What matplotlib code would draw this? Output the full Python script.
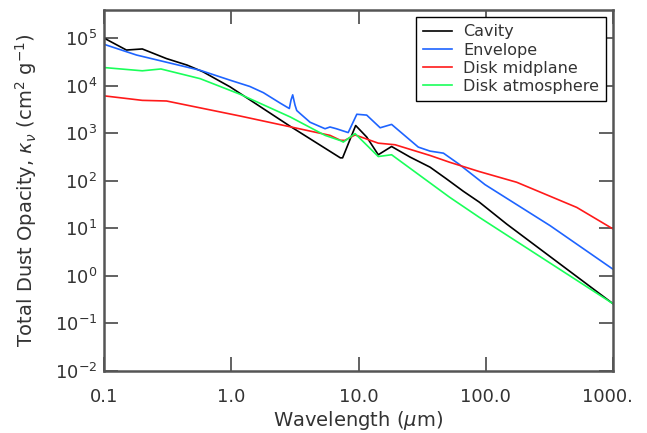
import matplotlib
matplotlib.use("Agg")
import matplotlib.pyplot as plt
from matplotlib.ticker import FixedLocator, NullLocator, FixedFormatter
from matplotlib.transforms import Bbox, TransformedBbox

# Opacity curves: wavelength (micron) and total dust opacity (cm^2 g^-1)
cavity_wl = [0.1, 0.15, 0.2, 0.31, 0.45, 0.6, 0.98, 2.9, 7.2, 7.5, 9.5,
             11.6, 14.3, 18.2, 25.4, 36.5, 49, 66.7, 89, 146, 1000]
cavity_k = [1.0e5, 5.6e4, 5.9e4, 3.7e4, 2.7e4, 1.95e4, 9.4e3, 1.4e3, 303,
            303, 1.45e3, 830, 352, 525, 315, 193, 110, 60, 35.5, 12.3, 0.26]

envelope_wl = [0.1, 0.18, 0.57, 0.98, 1.4, 1.79, 2.42, 2.86, 2.95, 3.04, 3.17,
               3.27, 3.47, 4.16, 5.46, 5.97, 6.7, 8.3, 9.7, 11.6, 14.8,
               18.2, 29.5, 36.5, 46.5, 61, 98.6, 320, 1000]
envelope_k = [7.4e4, 4.4e4, 2.1e4, 1.3e4, 9.6e3, 7.1e3, 4.3e3, 3.3e3, 5.0e3,
              6.4e3, 3.9e3, 3.0e3, 2.6e3, 1.7e3, 1.24e3, 1.35e3, 1.24e3,
              1.03e3, 2.5e3, 2.4e3, 1.3e3, 1.53e3, 510, 420, 380, 228, 83,
              11.4, 1.38]

midplane_wl = [0.1, 0.2, 0.31, 1.17, 5.97, 7.2, 7.8, 9.4, 14.3, 19.4, 36.5,
               52, 89, 175, 519, 1000]
midplane_k = [6.1e3, 4.9e3, 4.75e3, 2.3e3, 900, 710, 705, 920, 617, 571, 340,
              245, 156, 93, 27.5, 9.7]

atmos_wl = [0.1, 0.2, 0.28, 0.57, 1.17, 2.9, 5.46, 7.2, 7.6, 9.4, 14.3, 18.2,
            52, 89, 1000]
atmos_k = [2.4e4, 2.05e4, 2.24e4, 1.4e4, 6.6e3, 2.2e3, 900, 700, 650, 980,
           323, 352, 45, 17, 0.26]

series_labels = ["Cavity", "Envelope", "Disk midplane", "Disk atmosphere"]
series_colors = ["#000000", "#1e64ff", "#ff1a1a", "#1aff5a"]

x_ticks = [0.1, 1.0, 10.0, 100.0, 1000.0]
x_ticklabels = ["0.1", "1.0", "10.0", "100.0", "1000.0"]
y_ticks = [1e-2, 1e-1, 1e0, 1e1, 1e2, 1e3, 1e4, 1e5]
y_ticklabels = [r"$10^{-2}$", r"$10^{-1}$", r"$10^{0}$", r"$10^{1}$",
                r"$10^{2}$", r"$10^{3}$", r"$10^{4}$", r"$10^{5}$"]

text_color = "#333333"
axis_color = "#555555"

fig = plt.figure(figsize=(6.47, 4.33), dpi=100)
ax = fig.add_axes([104 / 647, 1 - 371 / 433, 509 / 647, 361 / 433])

curves = [(cavity_wl, cavity_k), (envelope_wl, envelope_k),
          (midplane_wl, midplane_k), (atmos_wl, atmos_k)]
for (wl, k), lab, col in zip(curves, series_labels, series_colors):
    ax.plot(wl, k, color=col, lw=1.2, label=lab)

ax.set_xscale("log")
ax.set_yscale("log")
ax.set_xlim(0.1, 1000)
ax.set_ylim(1e-2, 10 ** 5.59)

ax.xaxis.set_major_locator(FixedLocator(x_ticks))
ax.xaxis.set_major_formatter(FixedFormatter(x_ticklabels))
ax.xaxis.set_minor_locator(NullLocator())
ax.yaxis.set_major_locator(FixedLocator(y_ticks))
ax.yaxis.set_major_formatter(FixedFormatter(y_ticklabels))
ax.yaxis.set_minor_locator(NullLocator())

ax.tick_params(axis="both", which="major", direction="in", length=10,
               width=1.3, color=axis_color, labelcolor=text_color,
               labelsize=13, top=True, right=True)
ax.tick_params(axis="x", pad=12)
ax.tick_params(axis="y", pad=5)
for sp in ax.spines.values():
    sp.set_color(axis_color)
    sp.set_linewidth(1.8)

# the rightmost tick label runs off the plotting area
clip = TransformedBbox(Bbox([[0, 0], [633 / 647, 1]]), fig.transFigure)
for t in ax.xaxis.get_major_ticks():
    t.label1.set_clip_box(clip)
    t.label1.set_clip_on(True)

fig.text(358 / 647, 1 - 421 / 433, r"Wavelength ($\mu$m)", ha="center",
         va="center", fontsize=14, color=text_color)
fig.text(26 / 647, 1 - 190.5 / 433,
         r"Total Dust Opacity, $\kappa_\nu$ (cm$^2$ g$^{-1}$)",
         ha="center", va="center", rotation=90, fontsize=14, color=text_color)

leg = ax.legend(loc="upper left", bbox_to_anchor=(0.613, 0.980),
                borderaxespad=0, fontsize=11.5, frameon=True, fancybox=False,
                edgecolor="black", framealpha=1, handlelength=1.8,
                handletextpad=0.7, labelspacing=0.2, borderpad=0.45)
leg.get_frame().set_linewidth(1.0)
for t in leg.get_texts():
    t.set_color(text_color)

fig.savefig("out.png", dpi=100)
